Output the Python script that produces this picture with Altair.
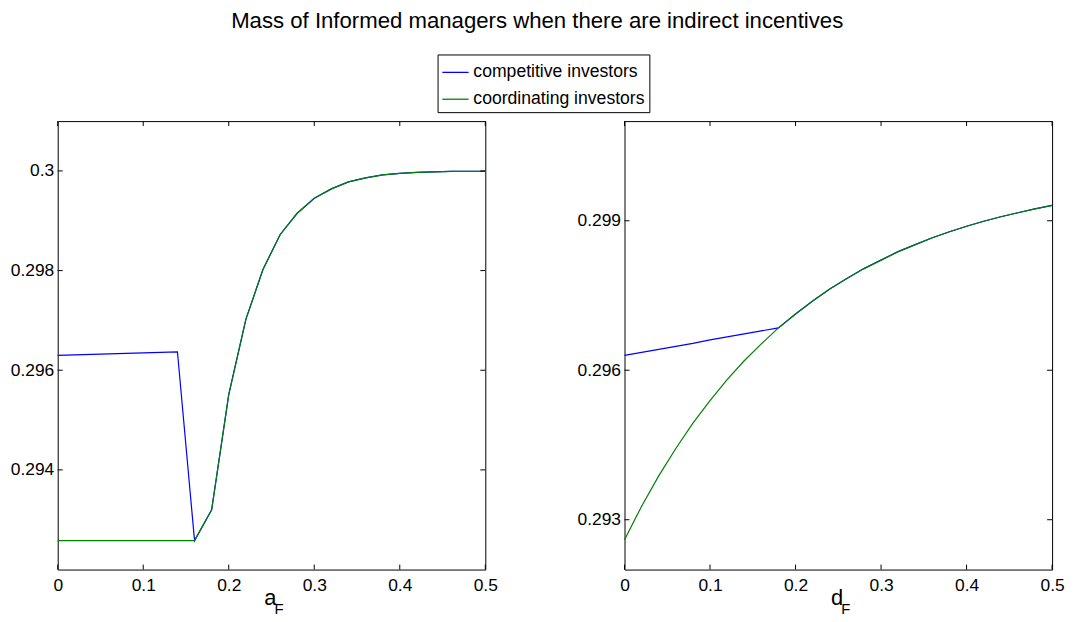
import altair as alt
import pandas as pd

# ---------------- data ----------------
series_names = ["competitive investors", "coordinating investors"]
series_colors = ["#0000ff", "#008000"]

x_grid = [0.0, 0.02, 0.04, 0.06, 0.08, 0.10, 0.12, 0.14, 0.16, 0.18, 0.20, 0.22, 0.24,
          0.26, 0.28, 0.30, 0.32, 0.34, 0.36, 0.38, 0.40, 0.42, 0.44, 0.46, 0.48, 0.50]

# left panel (a_F)
left_competitive = [0.2963, 0.29631, 0.29632, 0.29633, 0.29634, 0.29635, 0.29636, 0.29637,
                    0.29258, 0.2932, 0.29551, 0.29702, 0.29802, 0.29872, 0.29915, 0.29945,
                    0.29964, 0.29978, 0.29986, 0.29992, 0.29995, 0.29997, 0.29998, 0.29999,
                    0.29999, 0.29999]
left_coordinating = [0.29258, 0.29258, 0.29258, 0.29258, 0.29258, 0.29258, 0.29258, 0.29258,
                     0.29258, 0.2932, 0.29551, 0.29702, 0.29802, 0.29872, 0.29915, 0.29945,
                     0.29964, 0.29978, 0.29986, 0.29992, 0.29995, 0.29997, 0.29998, 0.29999,
                     0.29999, 0.29999]

# right panel (d_F)
right_competitive = [0.2963, 0.29636, 0.29642, 0.29648, 0.29654, 0.29661, 0.29667, 0.29673,
                     0.29679, 0.29685, 0.29713, 0.29739, 0.29763, 0.29784, 0.29804, 0.29821,
                     0.29838, 0.29852, 0.29866, 0.29878, 0.29889, 0.29899, 0.29908, 0.29916,
                     0.29924, 0.29931]
right_coordinating = [0.2926, 0.29327, 0.29388, 0.29443, 0.29494, 0.29539, 0.29581, 0.29619,
                      0.29653, 0.29685, 0.29713, 0.29739, 0.29763, 0.29784, 0.29804, 0.29821,
                      0.29838, 0.29852, 0.29866, 0.29878, 0.29889, 0.29899, 0.29908, 0.29916,
                      0.29924, 0.29931]

x_ticks = [0, 0.1, 0.2, 0.3, 0.4, 0.5]
left_y_ticks = [0.294, 0.296, 0.298, 0.3]
right_y_ticks = [0.293, 0.296, 0.299]
x_domain = [0, 0.5]
y_domain = [0.292, 0.301]

x_title_letters = ["a", "d"]
x_title_sub = "F"
chart_title = "Mass of Informed managers when there are indirect incentives"

# ---------------- layout ----------------
W, H = 430, 451
FONT = "Liberation Sans"
TICK = 5
LBL = 17.5


def panel(xs, comp, coord, yticks, letter, show_legend):
    df = pd.DataFrame({
        "x": xs + xs,
        "y": comp + coord,
        "series": [series_names[0]] * len(xs) + [series_names[1]] * len(xs),
    })
    xsc = alt.Scale(domain=x_domain, nice=False, zero=False)
    ysc = alt.Scale(domain=y_domain, nice=False, zero=False)
    xax = alt.Axis(values=x_ticks, format="~g", title=None, ticks=False, tickSize=0,
                   domain=False, grid=False, labelFontSize=LBL, labelFont=FONT,
                   labelColor="black", labelPadding=7, labelFlush=False)
    yax = alt.Axis(values=yticks, format="~g", title=None, ticks=False, tickSize=0,
                   domain=False, grid=False, labelFontSize=LBL, labelFont=FONT,
                   labelColor="black", labelPadding=4, labelFlush=False)

    if show_legend:
        leg = alt.Legend(
            title=None, orient="none", legendX=382, legendY=-67, direction="vertical",
            fillColor="white", strokeColor="black", padding=4, symbolType="stroke",
            symbolSize=700, symbolStrokeWidth=1.3, labelFontSize=17.7, labelFont=FONT,
            labelColor="black", rowPadding=4, labelOffset=4, labelLimit=400,
        )
    else:
        leg = None

    lines = alt.Chart(df).mark_line(strokeWidth=1.2).encode(
        x=alt.X("x:Q", scale=xsc, axis=xax),
        y=alt.Y("y:Q", scale=ysc, axis=yax),
        color=alt.Color("series:N", scale=alt.Scale(domain=series_names, range=series_colors),
                        legend=leg),
    )

    yt = pd.DataFrame({"v": yticks})
    xt = pd.DataFrame({"v": x_ticks})
    ytick_l = alt.Chart(yt).mark_rule(color="black", strokeWidth=1).encode(
        y=alt.Y("v:Q", scale=ysc, axis=yax), x=alt.value(0), x2=alt.value(TICK))
    ytick_r = alt.Chart(yt).mark_rule(color="black", strokeWidth=1).encode(
        y=alt.Y("v:Q", scale=ysc, axis=yax), x=alt.value(W - TICK), x2=alt.value(W))
    xtick_b = alt.Chart(xt).mark_rule(color="black", strokeWidth=1).encode(
        x=alt.X("v:Q", scale=xsc, axis=xax), y=alt.value(H - TICK), y2=alt.value(H))
    xtick_t = alt.Chart(xt).mark_rule(color="black", strokeWidth=1).encode(
        x=alt.X("v:Q", scale=xsc, axis=xax), y=alt.value(0), y2=alt.value(TICK))

    t_main = alt.Chart(pd.DataFrame({"t": [letter]})).mark_text(
        align="right", baseline="alphabetic", fontSize=22, font=FONT, color="black"
    ).encode(text="t:N", x=alt.value(220), y=alt.value(H + 36))
    t_sub = alt.Chart(pd.DataFrame({"t": [x_title_sub]})).mark_text(
        align="left", baseline="alphabetic", fontSize=15, font=FONT, color="black"
    ).encode(text="t:N", x=alt.value(218), y=alt.value(H + 45))

    return alt.layer(lines, ytick_l, ytick_r, xtick_b, xtick_t, t_main, t_sub).properties(
        width=W, height=H)


left = panel(x_grid, left_competitive, left_coordinating, left_y_ticks, x_title_letters[0], True)
right = panel(x_grid, right_competitive, right_coordinating, right_y_ticks, x_title_letters[1], False)

chart = alt.hconcat(left, right, spacing=78).properties(
    title=alt.TitleParams(chart_title, fontSize=22.3, font=FONT, fontWeight="normal",
                          anchor="middle", color="black", offset=22),
    padding={"left": 1, "top": 0, "right": 2, "bottom": 2},
    background="white",
).configure_view(stroke="black", strokeWidth=1)

chart.save("out.html", embed_options={"renderer": "svg", "actions": False})
